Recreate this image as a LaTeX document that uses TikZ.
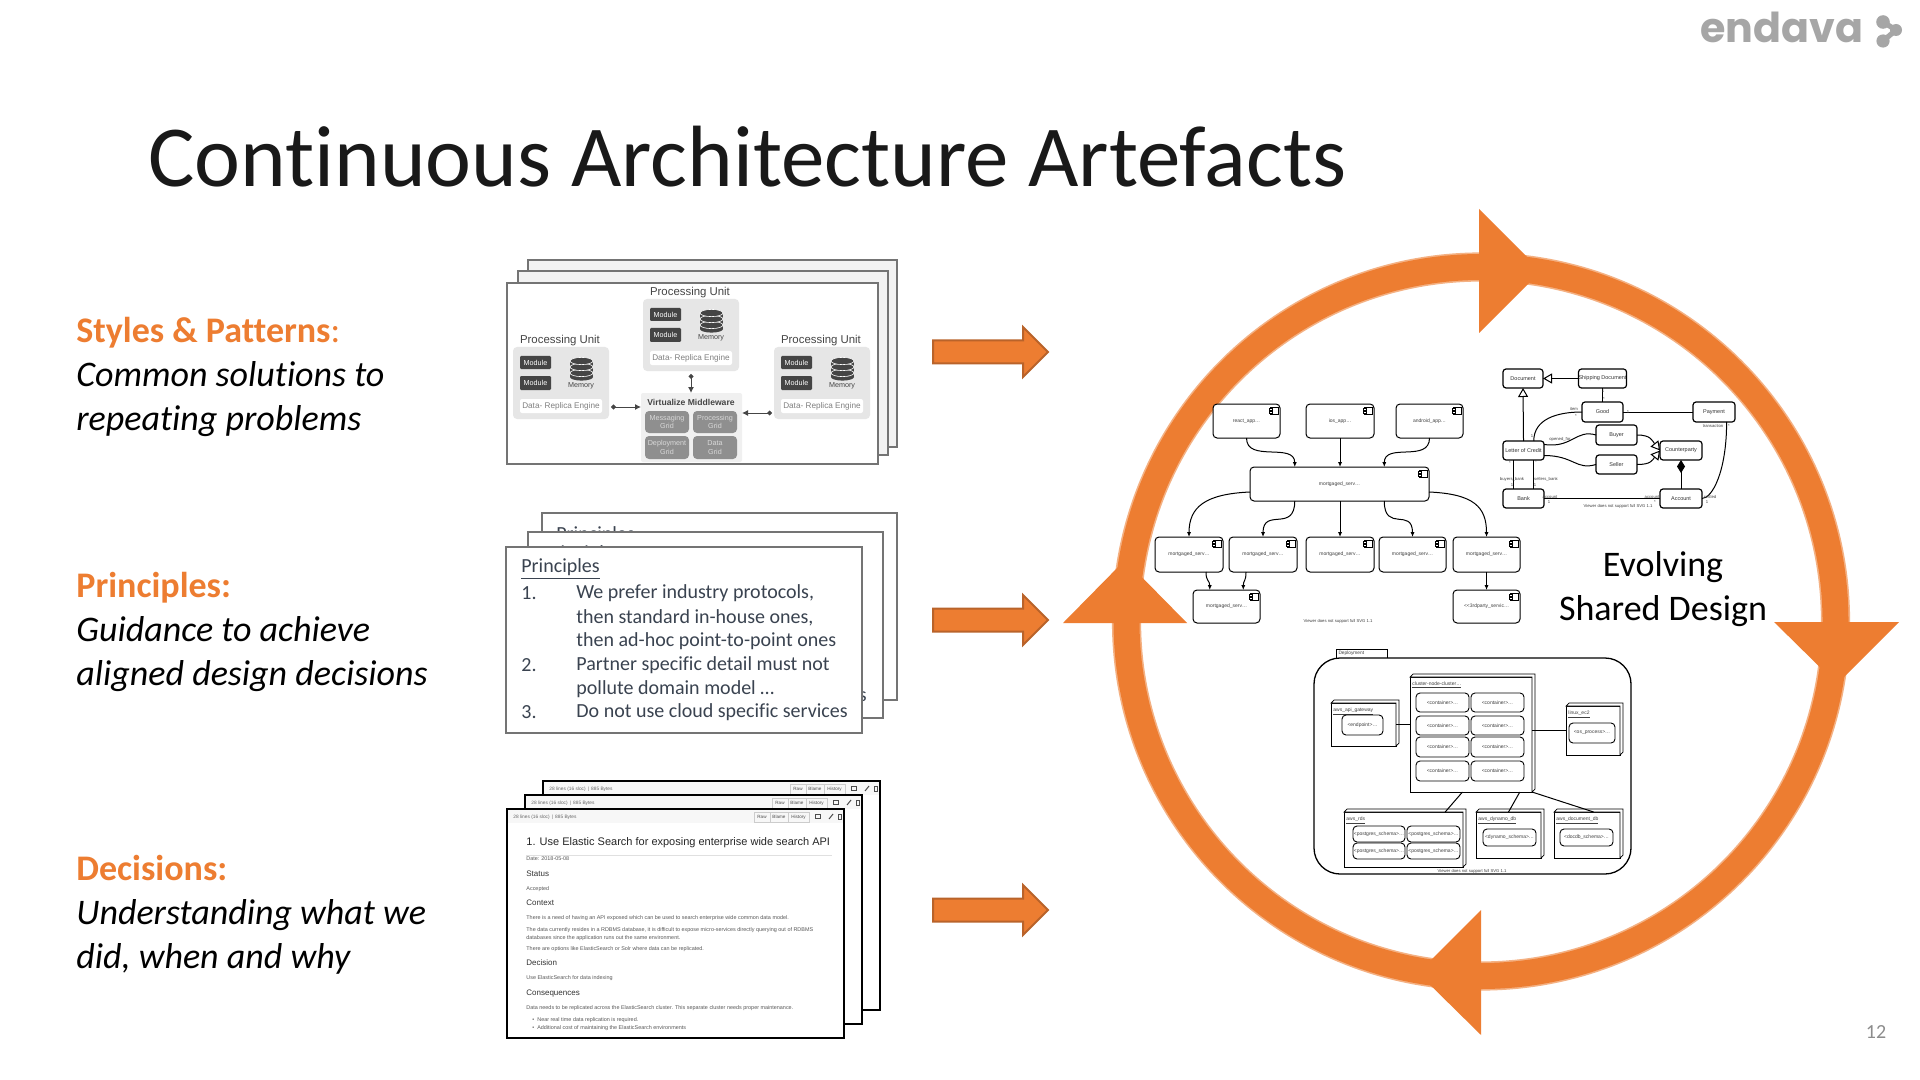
\documentclass[tikz,border=0pt]{standalone}
\usepackage{fontspec}
\setmainfont[Ligatures=NoCommon]{Carlito}
\setsansfont{Liberation Sans}
\newfontfamily\logofont{Poppins}
\usetikzlibrary{arrows.meta,calc}
\definecolor{orng}{HTML}{ED7D31}
\definecolor{orngedge}{HTML}{F4B183}
\definecolor{orngdark}{HTML}{B9632A}
\definecolor{sheetgrey}{HTML}{747474}
\definecolor{prink}{HTML}{3A4350}
\definecolor{logogrey}{HTML}{A6A6A6}
\definecolor{pubg}{HTML}{E6E6E6}
\definecolor{moddark}{HTML}{454545}
\definecolor{gridgrey}{HTML}{8F8F8F}
\definecolor{labgrey}{HTML}{808080}
\newcommand{\BX}[7][]{%
  \pgfmathsetmacro\bxw{(#5-#3)*0.5}\pgfmathsetmacro\bxh{(#6-#4)*0.5}%
  \node[inner sep=0pt,outer sep=0pt,align=center,minimum width=\bxw pt,minimum height=\bxh pt,#1] (#2) at ({(#3+#5)/2},{(#4+#6)/2}) {#7};}
\newcommand{\PU}[3]{%
\begin{scope}[shift={(#2,#3)}]
  \BX[fill=pubg,rounded corners=2pt]{#1}{0}{0}{96}{72}{}
  \BX[fill=moddark,rounded corners=0.6pt,text=white,font=\sffamily\fontsize{3.6}{4}\selectfont]{#1m1}{7}{9}{38}{22}{Module}
  \BX[fill=moddark,rounded corners=0.6pt,text=white,font=\sffamily\fontsize{3.6}{4}\selectfont]{#1m2}{7}{29}{38}{43}{Module}
  \fill[moddark] (57,14) rectangle (80,30);
  \fill[moddark] (68.5,30) ellipse [x radius=5.75pt,y radius=1.8pt];
  \fill[moddark,draw=white,line width=0.3pt] (68.5,26) ellipse [x radius=5.75pt,y radius=1.8pt];
  \fill[moddark,draw=white,line width=0.3pt] (68.5,20) ellipse [x radius=5.75pt,y radius=1.8pt];
  \fill[moddark,draw=white,line width=0.3pt] (68.5,14) ellipse [x radius=5.75pt,y radius=1.8pt];
  \node[font=\sffamily\fontsize{3.6}{4}\selectfont,text=moddark,inner sep=0pt] (#1mem) at (68,39) {Memory};
  \BX[fill=white,rounded corners=1pt,text=labgrey,font=\sffamily\fontsize{4.1}{5}\selectfont]{#1dr}{7}{52}{89}{66}{Data- Replica Engine}
  \node[font=\sffamily\fontsize{5.7}{6}\selectfont,text=moddark,inner sep=0pt] (#1t) at (47,-6) {Processing Unit};
\end{scope}}
\newcommand{\PRTEXT}[3]{%
\begin{scope}[shift={(#2,#3)}]
  \node[prtxt] (#1a) at (521,569) {\underline{Principles}};
  \node[prtxt] (#1b) at (521,593.5) {1.};
  \node[prtxt] (#1c) at (576,593.5) {We prefer industry protocols,};
  \node[prtxt] (#1d) at (576,617.5) {then standard in-house ones,};
  \node[prtxt] (#1e) at (576,641.5) {then ad-hoc point-to-point ones};
  \node[prtxt] (#1f) at (521,665.5) {2.};
  \node[prtxt] (#1g) at (576,665.5) {Partner specific detail must not};
  \node[prtxt] (#1h) at (576,689.5) {pollute domain model \dots};
  \node[prtxt] (#1i) at (521,712.5) {3.};
  \node[prtxt] (#1j) at (576,712.5) {Do not use cloud specific services};
\end{scope}}
\newcommand{\ADRSHEET}[3]{%
\begin{scope}[shift={(#2,#3)}]
  \BX[draw=black,fill=white,line width=1pt]{#1}{0}{0}{337}{229}{}
  \fill[black!3] (1,1) rectangle (336,14);
  \node[adrsmall,anchor=west] (#1h) at (6,8) {28 lines (16 sloc) \,|\, 885 Bytes};
  \BX[draw=black!20,line width=0.3pt,font=\sffamily\fontsize{2.3}{3}\selectfont,text=black!70]{#1r}{247}{3}{263}{13}{Raw}
  \BX[draw=black!20,line width=0.3pt,font=\sffamily\fontsize{2.3}{3}\selectfont,text=black!70]{#1b}{263}{3}{281}{13}{Blame}
  \BX[draw=black!20,line width=0.3pt,font=\sffamily\fontsize{2.3}{3}\selectfont,text=black!70]{#1y}{281}{3}{302}{13}{History}
  \draw[black!70,line width=0.35pt] (308,5.5) rectangle (313,9.5);
  \draw[black!70,line width=0.5pt] (322,10) -- (326,5);
  \draw[black!70,line width=0.35pt] (331,5) rectangle (334.5,10);
\end{scope}}
\newcommand{\DEP}[6]{%
  \BX[draw=black,fill=white,line width=0.45pt]{#1}{#2}{#3}{#4}{#5}{}
  \draw[black,line width=0.35pt,fill=white] (#1.north west) -- ++(3,-3) -- ($(#1.north east)+(3,-3)$) -- ($(#1.south east)+(3,-3)$) -- (#1.south east) -- (#1.north east) -- cycle;
  \node[tinyt,anchor=north west,inner sep=0pt] (#1l) at ($(#1.north west)+(2,4)$) {\underline{#6}};}
\tikzset{
  prtxt/.style={anchor=west,inner sep=0pt,text=prink,font=\fontsize{10}{12}\selectfont},
  adrsmall/.style={inner sep=0pt,text=black!60,font=\sffamily\fontsize{2.4}{3}\selectfont},
  adrbody/.style={anchor=west,inner sep=0pt,text=black!65,font=\sffamily\fontsize{2.72}{3}\selectfont},
  adrhead/.style={anchor=west,inner sep=0pt,text=black!80,font=\sffamily\fontsize{4}{5}\selectfont},
  tinyt/.style={inner sep=0pt,text=black!75,font=\sffamily\fontsize{2.5}{3}\selectfont},
  comp/.style={draw=black,fill=white,line width=0.5pt,rounded corners=2pt,font=\sffamily\fontsize{2.5}{3}\selectfont,text=black!75},
  cls/.style={draw=black,fill=white,line width=0.6pt,rounded corners=1.5pt,font=\sffamily\fontsize{2.75}{4}\selectfont,text=black!80},
  ctn/.style={draw=black,fill=white,line width=0.45pt,rounded corners=2pt,font=\sffamily\fontsize{2.5}{3}\selectfont,text=black!75},
  uml/.style={black,line width=0.5pt},
  umlarrow/.style={uml,-{Latex[length=2.4pt,width=2pt]}},
  umlgen/.style={uml,-{Triangle[open,length=4.5pt,width=5pt,fill=white]}},
  lab/.style={inner sep=0pt,text=black!75,font=\sffamily\fontsize{2.1}{3}\selectfont},
  midarrow/.style={moddark,line width=0.5pt,{Circle[length=2.4pt]}-{Latex[length=3pt,width=3pt]}},
  blockarrow/.style={fill=orng,draw=orngdark,line width=1pt,line join=miter},
  ringhead/.style={fill=orng,draw=none},
  lefttext/.style={anchor=west,inner sep=0pt,align=left,font=\fontsize{18}{22}\selectfont,text=black},
}
\begin{document}
\begin{tikzpicture}[x=0.5pt,y=-0.5pt]
\useasboundingbox (0,0) rectangle (1920,1080);
\fill[white] (0,0) rectangle (1920,1080);

% Logo
\node[anchor=base west,inner sep=0pt,text=logogrey,font=\logofont\bfseries\fontsize{20.6}{24}\selectfont] (logo) at (1700,43) {endava};
\draw[logogrey,line width=2.6pt,line cap=round,line join=round] (1883,22) -- (1896,30) -- (1883,41);
\fill[logogrey] (1883,22) circle [radius=3.4pt];
\fill[logogrey] (1896,30) circle [radius=3pt];
\fill[logogrey] (1883,41) circle [radius=3.3pt];

% Title
\node[anchor=base west,inner sep=0pt,text=black!90,font=\fontsize{43.5}{50}\selectfont] (title) at (148,187) {Continuous Architecture Artefacts};

% Left texts
\node[lefttext] (t1) at (76,376.5) {\textcolor{orng}{\textbf{Styles \& Patterns}:}\\\textit{Common solutions to}\\\textit{repeating problems}};
\node[lefttext] (t2) at (76,631.5) {\textcolor{orng}{\textbf{Principles:}}\\\textit{Guidance to achieve}\\\textit{aligned design decisions}};
\node[lefttext] (t3) at (76,914.5) {\textcolor{orng}{\textbf{Decisions:}}\\\textit{Understanding what we}\\\textit{did, when and why}};

% Stack 1: Styles and patterns
\BX[draw=sheetgrey,fill=black!5,line width=0.9pt]{s1c}{528}{260}{897}{447}{}
\BX[draw=sheetgrey,fill=black!5,line width=0.9pt]{s1b}{518}{271}{888}{455}{}
\BX[draw=sheetgrey,fill=white,line width=0.9pt]{s1a}{507}{283}{878}{464}{}
\PU{puc}{643}{299}
\PU{pul}{513}{347}
\PU{pur}{774}{347}
\BX[fill=black!6,rounded corners=1pt]{mw}{641}{393}{742}{462}{}
\node[inner sep=0pt,font=\sffamily\bfseries\fontsize{4.3}{5}\selectfont,text=moddark] (mwt) at (691,402) {Virtualize Middleware};
\BX[fill=gridgrey,rounded corners=2pt,text=black!15,font=\sffamily\fontsize{3.6}{4.4}\selectfont]{g1}{645}{411}{689}{433}{Messaging\\Grid}
\BX[fill=gridgrey,rounded corners=2pt,text=black!15,font=\sffamily\fontsize{3.6}{4.4}\selectfont]{g2}{693}{411}{737}{433}{Processing\\Grid}
\BX[fill=gridgrey,rounded corners=2pt,text=black!15,font=\sffamily\fontsize{3.6}{4.4}\selectfont]{g3}{645}{436}{689}{459}{Deployment\\Grid}
\BX[fill=gridgrey,rounded corners=2pt,text=black!15,font=\sffamily\fontsize{3.6}{4.4}\selectfont]{g4}{693}{436}{737}{459}{Data\\Grid}
\coordinate (pco) at (691,374);
\coordinate (plo) at (611,407);
\coordinate (pro) at (772,413);
\draw[midarrow] (pco) -- (pco |- mw.north);
\draw[midarrow] (plo) -- (plo -| mw.west);
\draw[midarrow] (pro) -- (pro -| mw.east);

% Stack 2: Principles
\BX[draw=sheetgrey,fill=white,line width=0.8pt]{s2c}{542}{513}{897}{700}{}
\node[prtxt] (prca) at (556,535) {Principles};
\BX[draw=sheetgrey,fill=white,line width=0.8pt]{s2b}{528}{532}{883}{718}{}
\node[prtxt] (prba) at (543,554) {Principles};
\node[prtxt,anchor=east] (prbs) at (867,697) {s};
\BX[draw=sheetgrey,fill=white,line width=0.8pt]{s2a}{506}{547}{862}{733}{}
\PRTEXT{pra}{0}{0}

% Stack 3: Decisions
\ADRSHEET{adc}{543}{781}
\ADRSHEET{adb}{525}{795}
\ADRSHEET{ada}{507}{809}
\node[anchor=west,inner sep=0pt,text=black!85,font=\sffamily\fontsize{5.5}{6}\selectfont] (a0) at (526,843) {1. Use Elastic Search for exposing enterprise wide search API};
\draw[black!12,line width=0.3pt] (526,855) -- (832,855);
\node[adrbody] (a1) at (526,859) {Date: 2018-05-08};
\node[adrhead] (a2) at (526,874) {Status};
\node[adrbody] (a3) at (526,889) {Accepted};
\node[adrhead] (a4) at (526,903) {Context};
\node[adrbody] (a5) at (526,918) {There is a need of having an API exposed which can be used to search enterprise wide common data model.};
\node[adrbody] (a6) at (526,930) {The data currently resides in a RDBMS database, it is difficult to expose micro-services directly querying out of RDBMS};
\node[adrbody] (a7) at (526,938) {databases since the application runs out the same environment.};
\node[adrbody] (a8) at (526,949) {There are options like ElasticSearch or Solr where data can be replicated.};
\node[adrhead] (a9) at (526,963) {Decision};
\node[adrbody] (a10) at (526,978) {Use ElasticSearch for data indexing};
\node[adrhead] (a11) at (526,994) {Consequences};
\node[adrbody] (a12) at (526,1008) {Data needs to be replicated across the ElasticSearch cluster. This separate cluster needs proper maintenance.};
\node[adrbody] (a13) at (532,1020) {\textbullet\ \ Near real time data replication is required.};
\node[adrbody] (a14) at (532,1028) {\textbullet\ \ Additional cost of maintaining the ElasticSearch environments};

% Block arrows
\foreach \nm/\cy in {ba/352,bb/620,bc/910}{
  \draw[blockarrow] (933,\cy-11.5) -- (1023,\cy-11.5) -- (1023,\cy-25) -- (1048,\cy) -- (1023,\cy+25) -- (1023,\cy+11.5) -- (933,\cy+11.5) -- cycle;
}

% Ring
\draw[orngedge,line width=14.6pt] (1481,621.5) circle [radius=177.25pt];
\draw[orng,line width=13pt] (1481,621.5) circle [radius=177.25pt];
\fill[ringhead] (1479,209) -- (1541,271) -- (1479,333) -- cycle;
\fill[ringhead] (1774,622) -- (1899,622) -- (1837,684) -- cycle;
\fill[ringhead] (1481,910) -- (1481,1035) -- (1418,973) -- cycle;
\fill[ringhead] (1063,623) -- (1187,623) -- (1125,560) -- cycle;

% Component diagram
\BX[comp]{ca}{1213}{404}{1280}{438}{react\_app\dots}
\BX[comp]{cb}{1306}{404}{1374}{438}{ios\_app\dots}
\BX[comp]{cc}{1396}{404}{1463}{438}{android\_app\dots}
\BX[comp]{cm}{1250}{467}{1429}{501}{mortgaged\_serv\dots}
\BX[comp]{cd}{1155}{537}{1223}{572}{mortgaged\_serv\dots}
\BX[comp]{ce}{1229}{537}{1297}{572}{mortgaged\_serv\dots}
\BX[comp]{cf}{1306}{537}{1374}{572}{mortgaged\_serv\dots}
\BX[comp]{cg}{1379}{537}{1446}{572}{mortgaged\_serv\dots}
\BX[comp]{ch}{1453}{537}{1520}{572}{mortgaged\_serv\dots}
\BX[comp]{ci}{1193}{590}{1260}{623}{mortgaged\_serv\dots}
\BX[comp]{cj}{1453}{590}{1520}{623}{<{}<3rdparty\_servic\dots}
\foreach \n in {ca,cb,cc,cm,cd,ce,cf,cg,ch,ci,cj}{
  \draw[black,line width=0.35pt,fill=white] ($(\n.north east)+(-9.5,3)$) rectangle ($(\n.north east)+(-2,10.5)$);
  \draw[black,line width=0.35pt,fill=white] ($(\n.north east)+(-11,4.5)$) rectangle ($(\n.north east)+(-8,6.5)$);
  \draw[black,line width=0.35pt,fill=white] ($(\n.north east)+(-11,7.5)$) rectangle ($(\n.north east)+(-8,9.5)$);
}
\draw[umlarrow] (ca.south) .. controls +(0,25) and +(0,-25) .. ($(cm.north west)!.25!(cm.north east)$);
\draw[umlarrow] (cb.south) -- (cb.south |- cm.north);
\draw[umlarrow] (cc.south) .. controls +(0,25) and +(0,-25) .. ($(cm.north west)!.75!(cm.north east)$);
\draw[umlarrow] ($(cm.south west)+(0,-9)$) .. controls +(-45,2) and +(0,-30) .. (cd.north);
\draw[umlarrow] ($(cm.south west)!.25!(cm.south east)$) .. controls +(0,32) and +(0,-30) .. (ce.north);
\draw[umlarrow] (cf.north |- cm.south) -- (cf.north);
\draw[umlarrow] ($(cm.south west)!.75!(cm.south east)$) .. controls +(0,32) and +(0,-30) .. (cg.north);
\draw[umlarrow] ($(cm.south east)+(0,-9)$) .. controls +(45,2) and +(0,-30) .. (ch.north);
\draw[umlarrow] ($(cd.south west)!.75!(cd.south east)$) .. controls +(0,10) and +(0,-10) .. ($(ci.north west)!.25!(ci.north east)$);
\draw[umlarrow] ($(ce.south west)!.25!(ce.south east)$) .. controls +(0,10) and +(0,-10) .. ($(ci.north west)!.75!(ci.north east)$);
\draw[umlarrow] (ch.south) -- (cj.north);
\node[lab] (ccap) at (1338,621) {Viewer does not support full SVG 1.1};

% Class diagram
\BX[cls]{doc}{1503}{369}{1543}{388}{Document}
\BX[cls]{ship}{1582}{369}{1623}{388}{Shipping Document}
\BX[cls]{good}{1582}{402}{1623}{422}{Good}
\BX[cls]{pay}{1693}{402}{1735}{422}{Payment}
\BX[cls]{buyer}{1596}{425}{1637}{445}{Buyer}
\BX[cls]{seller}{1596}{455}{1637}{474}{Seller}
\BX[cls]{loc}{1503}{441}{1544}{460}{Letter of Credit}
\BX[cls]{cpty}{1660}{441}{1702}{460}{Counterparty}
\BX[cls]{bank}{1503}{489}{1544}{508}{Bank}
\BX[cls]{acct}{1660}{489}{1702}{508}{Account}
\draw[umlgen] (ship.west) -- (doc.east);
\draw[umlgen] (loc.north) -- (doc.south);
\draw[uml] (ship.south) -- (good.north);
\draw[uml] ($(loc.north west)!.75!(loc.north east)$) .. controls +(0,-22) and +(-25,0) .. (good.west);
\draw[uml] ($(loc.east)+(0,-6)$) .. controls +(28,4) and +(-20,-6) .. (buyer.west);
\draw[uml] ($(loc.east)+(0,5)$) .. controls +(30,0) and +(-20,6) .. (seller.west);
\draw[uml] (good.east) -- (pay.west);
\draw[uml] ($(pay.south west)!.8!(pay.south east)$) .. controls +(0,50) and +(10,0) .. (acct.east);
\draw[umlgen] (buyer.east) .. controls +(14,0) and +(-8,-10) .. (cpty.west);
\draw[umlgen] (seller.east) .. controls +(14,0) and +(-8,10) .. (cpty.west);
\draw[uml,{Diamond[length=6.5pt,width=4pt]}-] (cpty.south) -- (acct.north);
\draw[uml] ($(loc.south west)!.25!(loc.south east)$) -- ($(bank.north west)!.25!(bank.north east)$);
\draw[uml] ($(loc.south west)!.75!(loc.south east)$) -- ($(bank.north west)!.75!(bank.north east)$);
\draw[uml] (bank.east) -- (acct.west);
\node[lab] (l1) at (1603,391) {1};
\node[lab] (l2) at (1604,399) {*};
\node[lab] (l3) at (1574,409) {item};
\node[lab] (l4) at (1576,416) {*};
\node[lab] (l5) at (1532,436) {1};
\node[lab] (l6) at (1560,439) {opened\_for};
\node[lab] (l7) at (1628,412) {1};
\node[lab] (l8) at (1713,426) {transaction};
\node[lab] (l9) at (1729,426) {*};
\node[lab] (l10) at (1510,463) {*};
\node[lab] (l11) at (1536,462) {*};
\node[lab] (l12) at (1512,479) {buyers\_bank};
\node[lab] (l13) at (1546,479) {sellers\_bank};
\node[lab] (l14) at (1512,485) {1};
\node[lab] (l15) at (1535,485) {1};
\node[lab] (l16) at (1550,497) {account};
\node[lab] (l17) at (1549,502) {1};
\node[lab] (l18) at (1652,497) {account};
\node[lab] (l19) at (1655,502) {*};
\node[lab] (l20) at (1710,497) {settled};
\node[lab] (l21) at (1707,502) {1};
\node[lab] (ccap2) at (1618,506) {Viewer does not support full SVG 1.1};

% Deployment diagram
\BX[draw=black,fill=white,line width=0.5pt,align=left,font=\sffamily\fontsize{2.4}{3}\selectfont,text=black!75,text width=23pt]{dtab}{1336}{649}{1387}{658}{Deployment}
\BX[draw=black,fill=white,line width=0.65pt,rounded corners=13pt]{dframe}{1314}{658}{1631}{874}{}
\DEP{dcl}{1410}{677}{1532}{792}{cluster-node-cluster\dots}
\BX[ctn]{k1}{1416}{693}{1469}{712}{<container>\dots}
\BX[ctn]{k2}{1471}{693}{1524}{712}{<container>\dots}
\BX[ctn]{k3}{1416}{716}{1469}{735}{<container>\dots}
\BX[ctn]{k4}{1471}{716}{1524}{735}{<container>\dots}
\BX[ctn]{k5}{1416}{737}{1469}{757}{<container>\dots}
\BX[ctn]{k6}{1471}{737}{1524}{757}{<container>\dots}
\BX[ctn]{k7}{1416}{761}{1469}{781}{<container>\dots}
\BX[ctn]{k8}{1471}{761}{1524}{781}{<container>\dots}
\DEP{dgw}{1331}{703}{1396}{746}{aws\_api\_gateway}
\BX[ctn]{gwi}{1342}{715}{1383}{735}{<endpoint>\dots}
\DEP{dec}{1566}{706}{1620}{755}{linux\_ec2}
\BX[ctn]{eci}{1569}{723}{1615}{743}{<os\_process>\dots}
\DEP{drd}{1344}{812}{1463}{867}{aws\_rds}
\BX[ctn]{r1}{1353}{826}{1405}{842}{<postgres\_schema>\dots}
\BX[ctn]{r2}{1407}{826}{1460}{842}{<postgres\_schema>\dots}
\BX[ctn]{r3}{1353}{843}{1405}{859}{<postgres\_schema>\dots}
\BX[ctn]{r4}{1407}{843}{1460}{859}{<postgres\_schema>\dots}
\DEP{ddy}{1476}{812}{1541}{858}{aws\_dynamo\_db}
\BX[ctn]{dyi}{1483}{829}{1536}{846}{<dynamo\_schema>\dots}
\DEP{ddc}{1554}{812}{1620}{858}{aws\_document\_db}
\BX[ctn]{dci}{1560}{829}{1613}{846}{<docdb\_schema>\dots}
\draw[uml] (dgw.east) -- (dgw.east -| dcl.west);
\draw[uml] (dcl.east |- dec.west) -- (dec.west);
\draw[uml] ($(dcl.south west)!.43!(dcl.south east)$) -- ($(drd.north west)!.85!(drd.north east)$);
\draw[uml] ($(dcl.south west)!.9!(dcl.south east)$) -- ($(ddy.north west)!.5!(ddy.north east)$);
\draw[uml] (dcl.south east) -- ($(ddc.north west)!.6!(ddc.north east)$);
\node[lab] (dcap) at (1472,871) {Viewer does not support full SVG 1.1};

% Ring caption
\node[inner sep=0pt,align=center,font=\fontsize{18}{22}\selectfont,text=black] (ev) at (1663,589.5) {Evolving\\Shared Design};

% Page number
\node[inner sep=0pt,text=black!45,font=\fontsize{10}{12}\selectfont] (pg) at (1876,1032) {12};
\end{tikzpicture}
\end{document}
